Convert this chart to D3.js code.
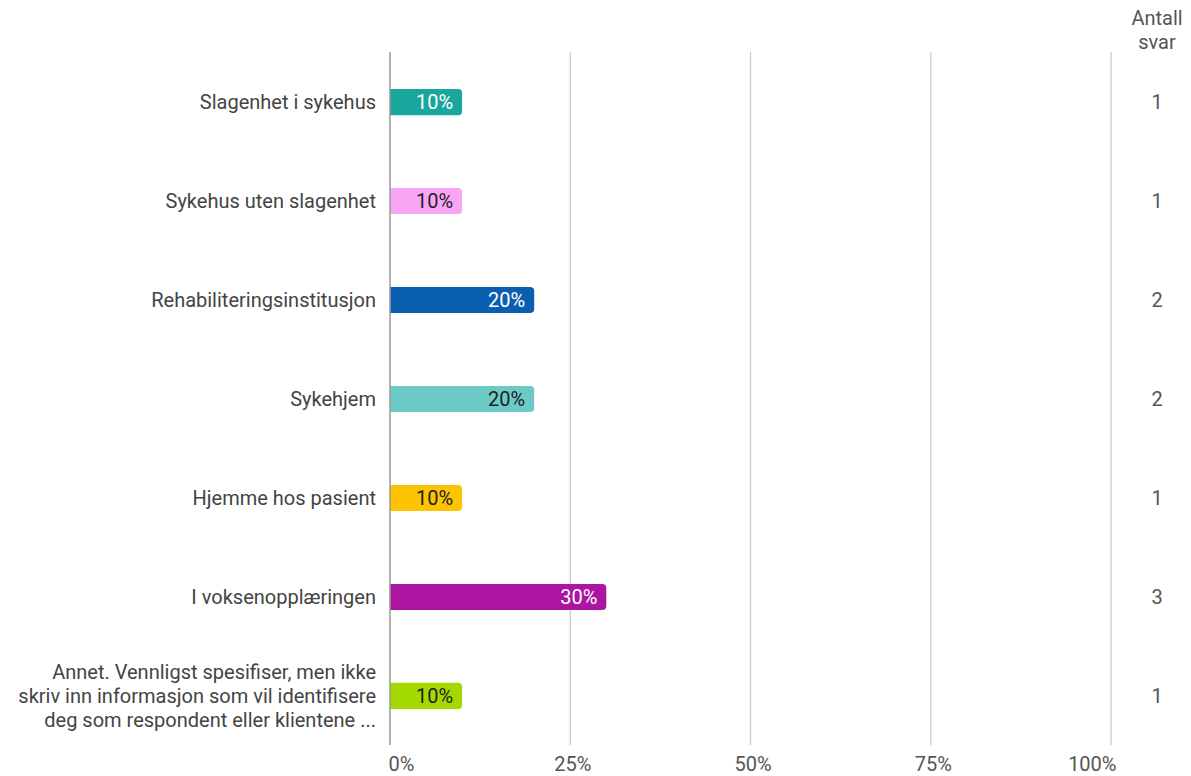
<!DOCTYPE html>
<html>
<head>
<meta charset="utf-8">
<script src="https://cdn.jsdelivr.net/npm/d3@7"></script>
<style>
  html, body { margin: 0; padding: 0; background: #fff; }
  svg { display: block; font-family: Roboto, "Noto Sans", Arial, sans-serif; }
</style>
</head>
<body>
<svg id="chart" width="1191" height="776"></svg>
<script>
// Response categories (each entry is a list of label lines)
const categories = [
  ["Slagenhet i sykehus"],
  ["Sykehus uten slagenhet"],
  ["Rehabiliteringsinstitusjon"],
  ["Sykehjem"],
  ["Hjemme hos pasient"],
  ["I voksenopplæringen"],
  ["Annet. Vennligst spesifiser, men ikke", "skriv inn informasjon som vil identifisere", "deg som respondent eller klientene ..."]
];
// Share of respondents (percent)
const shares = [10, 10, 20, 20, 10, 30, 10];
// Number of answers per category
const counts = [1, 1, 2, 2, 1, 3, 1];
const barColors = ["#18a69d", "#f8a5f6", "#0b5fb1", "#6ccbc7", "#fcc300", "#ac15a1", "#a4d900"];
const labelColors = ["#ffffff", "#222222", "#ffffff", "#222222", "#222222", "#ffffff", "#222222"];
const tickValues = [0, 25, 50, 75, 100];
const countHeader = ["Antall", "svar"];

const FS = 20;
const svg = d3.select("#chart");

const x = d3.scaleLinear().domain([0, 100]).range([390, 1111]);
const y = d3.scaleBand()
  .domain(d3.range(categories.length))
  .range([52.5, 745.5])
  .paddingInner(0.737)
  .paddingOuter(0.37);

// Vertical gridlines
svg.append("g")
  .selectAll("line")
  .data(tickValues.filter(d => d > 0))
  .join("line")
  .attr("x1", d => x(d)).attr("x2", d => x(d))
  .attr("y1", 52).attr("y2", 745)
  .attr("stroke", "#c8c8c8")
  .attr("stroke-width", 1.2);

// Bottom axis labels (outer labels align to the plot edges)
const xAxis = d3.axisBottom(x)
  .tickValues(tickValues)
  .tickFormat(d => d + "%")
  .tickSize(0)
  .tickPadding(0);
const gx = svg.append("g").call(xAxis);
gx.select(".domain").remove();
gx.selectAll("text")
  .attr("y", 771)
  .attr("dy", null)
  .attr("x", d => d === 0 ? -2 : d === 100 ? 5 : 2)
  .attr("text-anchor", d => d === 0 ? "start" : d === 100 ? "end" : "middle")
  .attr("font-size", FS)
  .attr("fill", "#555")
  .attr("font-family", "Roboto, sans-serif");

// Bars: square at the baseline, rounded at the end
const r = 4;
function barPath(i) {
  const x0 = x(0), x1 = x(shares[i]);
  const y0 = y(i), h = y.bandwidth();
  return `M${x0},${y0}H${x1 - r}A${r},${r} 0 0 1 ${x1},${y0 + r}` +
         `V${y0 + h - r}A${r},${r} 0 0 1 ${x1 - r},${y0 + h}H${x0}Z`;
}
svg.append("g")
  .selectAll("path")
  .data(d3.range(categories.length))
  .join("path")
  .attr("d", i => barPath(i))
  .attr("fill", i => barColors[i]);

// Baseline
svg.append("line")
  .attr("x1", x(0)).attr("x2", x(0))
  .attr("y1", 52).attr("y2", 745)
  .attr("stroke", "#999")
  .attr("stroke-width", 1.5);

// Value labels inside the bars
svg.append("g")
  .selectAll("text")
  .data(d3.range(categories.length))
  .join("text")
  .attr("x", i => x(shares[i]) - 9)
  .attr("y", i => y(i) + y.bandwidth() / 2)
  .attr("dy", "0.35em")
  .attr("text-anchor", "end")
  .attr("font-size", FS)
  .attr("fill", i => labelColors[i])
  .text(i => shares[i] + "%");

// Category labels
const lineH = 24;
const catG = svg.append("g");
categories.forEach((lines, i) => {
  const cy = y(i) + y.bandwidth() / 2;
  const t = catG.append("text")
    .attr("text-anchor", "end")
    .attr("font-size", FS)
    .attr("fill", "#444");
  lines.forEach((ln, k) => {
    t.append("tspan")
      .attr("x", 376)
      .attr("y", cy + (k - (lines.length - 1) / 2) * lineH)
      .attr("dy", "0.35em")
      .text(ln);
  });
});

// Answer counts column
svg.append("text")
  .attr("text-anchor", "middle")
  .attr("font-size", FS)
  .attr("fill", "#555")
  .selectAll("tspan")
  .data(countHeader)
  .join("tspan")
  .attr("x", 1157)
  .attr("y", (d, k) => 18 + k * 24)
  .attr("dy", "0.35em")
  .text(d => d);

svg.append("g")
  .selectAll("text")
  .data(d3.range(categories.length))
  .join("text")
  .attr("x", 1157)
  .attr("y", i => y(i) + y.bandwidth() / 2)
  .attr("dy", "0.35em")
  .attr("text-anchor", "middle")
  .attr("font-size", FS)
  .attr("fill", "#555")
  .text(i => counts[i]);
</script>
</body>
</html>
